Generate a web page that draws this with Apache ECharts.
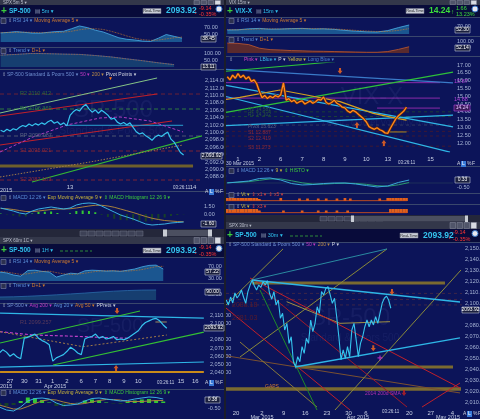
<!DOCTYPE html>
<html><head><meta charset="utf-8">
<script src="https://cdn.jsdelivr.net/npm/echarts@6.0.0/dist/echarts.min.js"></script>
<style>html,body{margin:0;padding:0;background:#0c1459;overflow:hidden}#c{width:480px;height:419px}</style>
</head><body><div id="c"></div>
<script>
/* ================= DATA ================= */
/* --- Top-left: SP-500 5m. x = 5-minute bar number counted from the 13 Apr open --- */
const tlBarStart = -44, tlBarStep = 2;
const tlPrice = [2100.6,2100.2,2100.9,2100.4,2101.0,2100.7,2101.4,2101.9,2101.6,2102.3,2101.8,2102.4,2102.0,2102.6,2102.2,2102.9,2103.3,2102.5,2102.9,2102.1,2102.6,2101.8,2104.6,2105.6,2106.2,2105.8,2106.9,2107.6,2106.4,2105.5,2106.1,2105.2,2106.0,2105.4,2104.7,2103.6,2103.9,2102.8,2102.3,2102.7,2102.1,2102.6,2101.4,2100.2,2099.6,2099.9,2099.1,2098.6,2097.9,2098.8,2099.3,2098.9,2099.6,2100.1,2098.2,2097.4,2096.0,2094.6,2093.9];
const tlRsiStep = 5;
const tlRsi   = [55.4,57,59,57,55,54.6,57,59,60,67,74.5,70,63,58,50,42,38,36,33,32,41,51,46,41];
const tlRsiMa = [56,56.5,57,57.5,57,56,56,56.5,57.5,60,64,67,67,65,60,54,47,41,37,35,36,39,42,44];
const tlTrendStep = 10;
const tlTrend = [85,90,97,95,92,90,82,72,58,45,30,17];
const tlMacdStep = 4;
const tlMacd       = [1.2,0.9,0.6,0.2,0,0.6,1.0,1.2,1.4,1.2,1.0,1.2,1.8,2.1,2.2,2.1,1.6,1.0,0.4,-0.2,-0.6,-1.0,-1.5,-2.0,-2.2,-2.1,-2.0,-1.8,-1.7,-1.6];
const tlMacdSignal = [1.1,1.05,0.9,0.7,0.5,0.5,0.6,0.75,0.9,1.0,1.0,1.05,1.2,1.4,1.6,1.75,1.75,1.6,1.35,1.0,0.65,0.3,-0.1,-0.5,-0.85,-1.1,-1.3,-1.4,-1.5,-1.55];
const tlMacdHist   = [0.1,-0.1,-0.3,-0.5,-0.5,0.1,0.4,0.45,0.5,0.2,0,0.15,0.6,0.7,0.6,0.35,-0.15,-0.6,-0.95,-1.2,-1.25,-1.3,-1.4,-1.5,-1.35,-1.0,-0.7,-0.4,-0.2,-0.05];
const tlXTicks = [[0,'13'],[78,'14']];
const tlPriceTicks = [2088,2090,2092,2094,2096,2098,2100,2102,2104,2106,2108,2110,2112,2114];
const tlPivotLevels = [2110.4,2106.35,2099.05,2095.0,2087.16];
const tlPivotNames  = ['R2 2110.412','R1 2106.369','PP 2099.087','S1 2095.021','S2 2087.163'];
const tlChanGreenUp  = [[-44.4,2105.27],[55.2,2114.73]];
const tlChanRedUp    = [[-44.4,2104.46],[55.2,2110.41]];
const tlChanRedLow   = [[-44.4,2096.62],[64.7,2103.11]];
const tlChanGreenLow = [[-24.1,2086.62],[85.6,2099.32]];
const tlSupportBand  = [[-44.4,2090.95],[78,2090.95]];
const tlCyanLevel    = [[-1.9,2101.95],[71.7,2101.95]];
const tlMa50  = [[-44.4,2094.73],[-23.5,2098.78],[-1.9,2102.03],[19.0,2103.92],[31.7,2104.19],[50.7,2103.11],[71.7,2100.14]];
const tlMa200 = [[-44.4,2087.97],[12.7,2092.03],[71.7,2096.62]];

/* --- Top-right: VIX-X 15m. x = trading day (0 = 1 Apr) --- */
const trDayStart = -0.5, trStep = 0.125;
const trPrice = [16.25,16.05,16.35,16.15,16.45,16.2,16.35,16.1,16.25,15.95,16.05,15.8,15.3,14.9,15.05,14.85,15.0,14.9,15.05,14.95,15.1,15.85,14.75,14.85,14.65,14.75,14.55,14.65,14.7,14.5,14.6,14.7,14.55,14.65,14.8,14.75,14.95,14.6,14.5,14.6,14.75,14.55,14.45,14.3,14.25,14.05,13.95,14.1,14.0,13.85,13.7,13.55,13.35,13.05,12.95,12.88,12.98,12.85,12.78,12.65,12.62,12.95,13.25,13.55,13.75,13.9,14.05,14.3];
const trSubStep = 0.5;
const trRsi   = [50,51,56,58,54,55,57,58,55,56,53,48,44,41,40,47,62,75];
const trRsiMa = [52,51,53,55,56,55,56,57,57,56,55,52,48,45,42,43,48,57];
const trTrend = [83,80,70,40,28,25,20,18,15,14,12,10,8,6,6,12,30,52];
const trMacd       = [0,0.11,0.22,0.5,0.56,0.33,-0.06,-0.22,-0.17,-0.06,0,0,-0.11,-0.28,-0.44,-0.33,0.06,0.33];
const trMacdSignal = [0.05,0.08,0.15,0.3,0.45,0.45,0.25,0.02,-0.12,-0.12,-0.06,-0.02,-0.05,-0.15,-0.3,-0.36,-0.2,0.05];
const trVt1 = [0.6,0.6,0.6,0.6,0.6,0.6,0.6,0.6,0.6,0.6,0.6,0.6,0.4,0,0,0,0,0,0,0,0.6,0,0,0,0,0,0,0.5,0,0,0.5,0,0,0,0.5,0,0,0.5,0,0,0,0.5,0,0,0.6,0,0.5,0,0,0,0,0,0,0,0,0,0,0.5,0,0,0.6,0.6,0.6,0.6,0.6,0.6,0.6,0.6];
const trVt2 = [0.8,0.8,0.8,0.8,0.8,0.8,0.8,0.8,0.8,0.8,0.8,0.8,0.5,0,0,0,0,0,0,0,0,0.5,0,0,0,0,0,0,0.5,0,0,0,0,0,0.5,0,0,0.5,0,0,0,0.5,0,0,0,0.5,0,0,0,0,0,0,0,0,0,0,0,0,0,0,0,0.8,0.8,0.8,0.8,0.8,0.8,0.8];
const trXTicks = [[0,'1'],[1,'2'],[2,'6'],[3,'7'],[4,'8'],[5,'9'],[6,'10'],[7,'13'],[9,'15']];
const trPriceTicks = [12,12.5,13,13.5,14,14.5,15,15.5,16,16.5,17];
const trGreenLow   = [[-0.56,13.96],[10.05,16.55]];
const trGreenHigh  = [[-0.56,16.6],[4.53,17.21]];
const trLongBlue   = [[-0.56,16.72],[10.05,15.85]];
const trLBlueUpper = [[-0.56,15.69],[10.05,13.03]];
const trLBlueFlat  = [[-0.56,13.11],[10.05,13.79]];
const trLBlueLower = [[-0.56,14.98],[9.91,11.42]];
const trYellowMa   = [[-0.56,14.79],[0.09,14.93],[1.96,15.4],[3.21,15.08],[4.77,14.65],[6.32,13.9],[7.42,13.58],[7.88,13.47]];
const trYellowSupport = [[6.96,12.71],[7.88,12.71]];
const trPurpleLevels = [15.87,14.88,14.24];
const trPurpleFrom   = [-0.56,-0.56,6.5];
const trPivotNames  = ['R2 14.581','R1 14.102','Pivot 13.623','S1 12.887','S2 12.419','S3 11.273'];
const trPivotLevels = [14.0,13.7,13.15,12.75,12.45,11.8];
const trArrowsDown = [[4.77,16.62]];
const trArrowsUp   = [[5.56,13.15],[6.82,12.0]];

/* --- Bottom-left: SP-500 1H. x = trading day (0 = 27 Mar) --- */
const blDayStart = -0.75, blStep = 0.25;
const blPrice = [2064,2068,2065,2060,2063,2059,2057,2082,2083,2085,2087,2082,2079,2077,2074,2054,2058,2060,2062,2066,2071,2068,2064,2062,2081,2083,2084,2087,2082,2084,2081,2082,2084,2080,2081,2080,2082,2085,2088,2091,2097,2101,2103,2105,2106,2103,2098,2094];
const blSubStep = 0.5;
const blRsi   = [50,47,40,36,55,56,52,50,33,40,46,44,54,56,55,53,54,52,56,60,67,72,73,60];
const blRsiMa = [52,50,46,42,44,48,52,53,48,44,42,43,46,50,53,54,54,53,53,55,58,63,68,69];
const blTrendStep = 1;
const blTrend = [27,29,34,40,47,55,63,72,80,86,90,91];
const blMacd       = [-0.4,-0.7,-0.8,-0.4,0.2,0.45,0.5,0.4,0,-0.25,-0.2,-0.1,0.2,0.45,0.5,0.4,0.3,0.2,0.25,0.4,0.5,0.6,0.55,0.4];
const blMacdSignal = [-0.2,-0.4,-0.6,-0.6,-0.35,-0.05,0.2,0.35,0.3,0.1,-0.05,-0.12,-0.05,0.1,0.25,0.35,0.35,0.3,0.15,0.15,0.15,0.2,0.25,0.25];
const blMacdHist   = [-0.2,-0.3,-0.2,0.2,0.55,0.5,0.3,0.05,-0.3,-0.35,-0.15,0.02,0.25,0.35,0.25,0.05,-0.05,-0.1,0.1,0.25,0.35,0.4,0.3,0.15];
const blXTicks = [[0,'27'],[1,'30'],[2,'31'],[3,'1'],[4,'2'],[5,'6'],[6,'7'],[7,'8'],[8,'9'],[9,'10'],[12,'15'],[13,'16']];
const blPriceTicks = [2040,2050,2060,2070,2080,2100,2110];
const blCyanTop   = [[-0.7,2112.5],[13.6,2106.4]];
const blGreenUp   = [[-0.7,2076.1],[9.12,2115.0]];
const blGreenLow  = [[3.02,2049.4],[13.6,2089.4]];
const blCyanLow   = [[-0.7,2046.9],[13.6,2053.0]];
const blOrangeLevel = [[-0.7,2040.8],[13.6,2040.8]];
const blMa50  = [[-0.7,2089.8],[1.61,2085.8],[4.0,2084.6],[7.02,2082.5],[8.42,2081.8]];
const blMa200 = [[-0.7,2089.8],[5.12,2071.6],[7.51,2077.3],[11.0,2085.8]];
const blShortLevel = [[10.2,2101.6],[11.0,2101.6]];
const blArrowDown = [[7.51,2115.0]];
const blArrowUp   = [[7.44,2045.7]];

/* --- Bottom-right: SP-500 30m. x = trading day (0 = 20 Feb) --- */
const brDayStart = -2.25, brStep = 0.5;
const brPrice = [2103,2098.5,2105.7,2100.3,2109.4,2104.8,2107.6,2112.1,2105.5,2100,2110.6,2116.6,2121.2,2115.7,2112.1,2116.6,2114.5,2119.6,2116.6,2120.6,2109.1,2103.6,2110.6,2098.5,2103,2086.4,2090.9,2075.7,2081.8,2063.6,2069.6,2046.9,2042.4,2051.5,2046.9,2060.6,2054.5,2068.2,2063.6,2084.8,2074.2,2081.8,2096.9,2090.9,2110.6,2107.6,2113.6,2115.1,2107.6,2100,2104.6,2087.8,2069.6,2048.5,2057.6,2050,2060.6,2051.5,2075.7,2081.8,2066.7,2051.5,2063.6,2069.6,2078.7,2084.8,2078.7,2084.8,2080.3,2087.8,2081.8,2090.9,2100,2104.6,2106.6,2103,2095.5];
const brXTicks = [[0,'20'],[6,'2'],[11,'9'],[16,'16'],[21,'23'],[26,'30'],[30,'6'],[40,'20'],[45,'27'],[50,'4']];
const brPriceTicks = [2010,2020,2030,2040,2050,2060,2070,2080,2100,2110,2120,2130,2140,2150];
const brBandHigh = [[3.69,2118.5],[48.26,2118.5]];
const brBandLow  = [[13.62,2042.1],[50.11,2042.1]];
const brGapBand  = [[-2.31,2022.1],[51.96,2022.1]];
const brCyanTop  = [[3.69,2121.2],[51.73,2101.2]];
const brCyanLow  = [[13.62,2042.1],[51.73,2068.5]];
const brTealRay  = [[3.69,2121.2],[34.87,2149.4]];
const brOliveRay1 = [[-2.31,2098.5],[10.85,2149.4]];
const brOliveRay2 = [[0.92,2051.2],[34.87,2149.4]];
const brOliveRay3 = [[22.86,2003.0],[51.96,2130.3]];
const brYellowPath = [[11.7,2101.5],[24.0,2081.8],[35.56,2083.3]];
const brRed1 = [[3.23,2123.0],[51.73,2023.0]];
const brRed2 = [[5.54,2114.8],[39.49,2005.7]];
const brRed3 = [[42.95,2005.7],[51.73,2027.5]];
const brRed4 = [[-2.31,2095.7],[26.32,2003.0]];
const brGreen = [[5.54,2112.1],[18.7,2003.0]];
const brBrown1 = [[-2.31,2052.3],[51.73,2018.5]];
const brBrown2 = [[0.92,2064.8],[18.7,2005.7]];
const brPivotLevels = [2109.1,2103.6,2098.5];
const brArrowsDown = [[36.02,2110.3],[31.7,2059.1]];
const brPlus = [[33.25,2050.3]];
const brRedArrow = [[38.8,2018.5]];

/* ================= DRAWING ================= */
const FONT = '"Liberation Sans","DejaVu Sans",sans-serif';
const WATER = 'rgba(150,170,240,0.07)';
const grids = [], xAxes = [], yAxes = [], series = [], gfx = [];
const mctx = document.createElement('canvas').getContext('2d');
function tw(t, s){ mctx.font = s + 'px ' + FONT; return mctx.measureText(t).width; }
function fmtP(v){ return v.toFixed(2).replace(/\B(?=(\d{3})+(?!\d))/g, ','); }
function f2(v){ return v.toFixed(2); }
function seq(start, step, arr){ return arr.map((v, i) => [start + step * i, v]); }

function addPanel(b, xr, yr, ax){
  ax = ax || {};
  grids.push({left:b[0], top:b[1], width:b[2], height:b[3], show:false, outerBoundsMode:'none', containLabel:false});
  const g = grids.length - 1;
  const xa = {type:'value', gridIndex:g, min:xr[0], max:xr[1], axisLine:{show:false}, axisTick:{show:false}, splitLine:{show:false}, axisLabel:{show:false}};
  if (ax.xLab){
    const lab = ax.xLab;
    xa.axisLabel = {show:true, customValues:lab.map(d=>d[0]), formatter:(v)=>{const f=lab.find(d=>Math.abs(d[0]-v)<1e-6);return f?f[1]:'';}, color:'#c8d0e4', fontSize:6, fontFamily:FONT, margin:ax.xMargin==null?3:ax.xMargin};
  }
  xAxes.push(xa);
  const ya = {type:'value', gridIndex:g, min:yr[0], max:yr[1], position:'right', axisLine:{show:false}, axisTick:{show:false}, splitLine:{show:false}, axisLabel:{show:false}};
  if (ax.yLab){
    ya.axisLabel = {show:true, customValues:ax.yLab, formatter:ax.yFmt || f2, color:'#a8b6d6', fontSize:5.5, fontFamily:FONT, margin:ax.yMargin==null?4:ax.yMargin};
  }
  yAxes.push(ya);
  return g;
}
function ln(g, data, color, w, dash, extra){
  series.push(Object.assign({type:'line', xAxisIndex:g, yAxisIndex:g, data, symbol:'none', silent:true, animation:false, z:3,
    lineStyle:{color, width:w, type:dash || 'solid'}}, extra || {}));
}
function area(g, data, lineColor, fill){
  ln(g, data, lineColor, 0.8, null, {areaStyle:{color:fill, opacity:1, origin:'start'}, z:2});
}
function bars(g, data, colorFn, w){
  series.push({type:'bar', xAxisIndex:g, yAxisIndex:g, data, barWidth:w, silent:true, animation:false, z:2,
    itemStyle:{color: colorFn}});
}
function marks(g, data, path, color, size){
  series.push({type:'scatter', xAxisIndex:g, yAxisIndex:g, data, symbol:path, symbolSize:size, silent:true, animation:false, z:6, itemStyle:{color}});
}
function T(x, y, text, fill, size, o){
  o = o || {};
  gfx.push({type:'text', x, y, z:o.z || 50, silent:true, style:{text, fill, fontSize:size, fontFamily:FONT, fontWeight:o.bold?'bold':'normal', align:o.align || 'left', verticalAlign:'middle', opacity:o.op==null?1:o.op}});
}
function Rc(x, y, w, h, fill, o){
  o = o || {};
  gfx.push({type:'rect', z:o.z || 1, silent:true, shape:{x, y, width:w, height:h}, style:{fill, stroke:o.stroke || null, lineWidth:o.lw || 1}});
}
function Ln(x1, y1, x2, y2, stroke, o){
  o = o || {};
  gfx.push({type:'line', z:o.z || 1, silent:true, shape:{x1, y1, x2, y2}, style:{stroke, lineWidth:o.lw || 1, lineDash:o.dash || null}});
}
function row(x, y, parts, s){
  s = s || 5;
  for (const [t, c] of parts){ T(x, y, t, c, s); x += tw(t, s) + 2; }
}
function iconBox(x, y){ Rc(x, y - 2.5, 5, 5, '#2c3150', {stroke:'#7d85a8', lw:0.6, z:40}); }
function valBox(x, y, w, text, fill, stroke, color){
  Rc(x, y - 3, w, 6, fill, {stroke, lw:0.6, z:55});
  T(x + w / 2, y, text, color, 5, {align:'center', z:56});
}
const ARROW_DN = 'path://M3,0L7,0L7,5L10,5L5,11L0,5L3,5Z';
const ARROW_UP = 'path://M5,0L10,6L7,6L7,11L3,11L3,6L0,6Z';
const PLUS = 'path://M3,0H5V3H8V5H5V8H3V5H0V3H3Z';
const PRICE = '#35c4ee';
const histColor = p => p.value[1] >= 0 ? '#34c834' : '#17402a';

/* ---------- chrome: headers ---------- */
function header(x0, y0, w, th, hh, title, sym, tf, price, priceColor, chg, pct, chgColor, arrow, rtX, prX, chX){
  Rc(x0, y0, w, th, '#33374a');
  T(x0 + 3, y0 + th / 2, title, '#b9bdca', 4.5);
  for (let k = 0; k < 4; k++) Rc(x0 + w - 30 + k * 7, y0 + 0.5, 5.5, th - 1, k === 3 ? '#d8dbe2' : '#50556a', {stroke:'#8a8fa0', lw:0.5});
  Rc(x0, y0 + th, w, hh, '#080b3a');
  const cy = y0 + th + hh / 2;
  T(x0 + 1, cy, '+', '#3ccc3c', 10, {bold:true});
  T(x0 + 9, cy, sym, '#2fc2ee', 6.5, {bold:true});
  T(x0 + 9 + tw(sym, 6.5) + 4, cy, '▤', '#7f8aa8', 6);
  T(x0 + 9 + tw(sym, 6.5) + 11, cy, tf + ' ▾', '#2fc2ee', 5.5);
  Rc(rtX, cy - 2.5, 18, 5, '#c9cdd6', {stroke:'#7a7f90', lw:0.5, z:40});
  T(rtX + 9, cy, 'Real-Time', '#202226', 3.8, {align:'center'});
  T(prX, cy, price, priceColor, 8.5, {bold:true});
  T(chX - 5, cy + 1.5, arrow, chgColor, 6.5, {bold:true});
  T(chX, cy - 3, chg, chgColor, 5.5);
  T(chX, cy + 3.5, pct, chgColor, 5.5);
  gfx.push({type:'circle', z:40, silent:true, shape:{cx:x0 + w - 5, cy:cy - 2, r:3}, style:{fill:'#e8e8f0', stroke:'#3a78c8', lineWidth:1}});
}
header(0, 0, 224, 5, 12, 'SPX 5m 5 ▾', 'SP-500', '5m', '2093.92', PRICE, '-9.14', '-0.35%', '#ff3434', '↓', 143, 166, 199);
header(226, 0, 254, 5, 12, 'VIX 15m ▾', 'VIX-X', '15m', '14.24', '#3cdc3c', '1.66', '13.23%', '#3cdc3c', '↑', 406, 429, 456);
header(0, 237, 224, 7, 13, 'SPX 60m 1C ▾', 'SP-500', '1H', '2093.92', PRICE, '-9.14', '-0.35%', '#ff3434', '↓', 143, 166, 199);
header(226, 222, 254, 7, 13, 'SPX 30m ▾', 'SP-500', '30m', '2093.92', PRICE, '-9.14', '-0.35%', '#ff3434', '↓', 400, 423, 453);
Ln(60, 251, 92, 251, '#2d8a3a', {lw:1, dash:[3,2], z:40});
Ln(290, 236, 322, 236, '#2d8a3a', {lw:1, dash:[3,2], z:40});
Rc(224, 0, 2, 419, '#1b1d2b', {z:45});

/* ---------- separators & scroll bars ---------- */
const SEP = '#3a476c';
[17.5, 47.5, 69.5, 191.5].forEach(y => Ln(0, y, 224, y, SEP));
[17.5, 36.5, 56.5, 166.5, 193.5, 204.5].forEach(y => Ln(226, y, 480, y, SEP));
[257.5, 283.5, 303.5, 389.5].forEach(y => Ln(0, y, 224, y, SEP));
Ln(226, 242.5, 480, 242.5, SEP);
Rc(0, 229, 224, 8, '#24273a', {z:40});
for (let k = 0; k < 8; k++) Rc(80 + k * 8, 231, 7, 5, '#3d4156', {stroke:'#70758a', lw:0.5, z:41});
Rc(163, 230, 49, 6, '#4b4f60', {z:41}); Rc(163, 229.5, 4, 7, '#c8ccd4', {z:42}); Rc(208, 229.5, 4, 7, '#c8ccd4', {z:42});
Rc(226, 215, 254, 7, '#24273a', {z:40});
for (let k = 0; k < 8; k++) Rc(320 + k * 8, 216.5, 7, 4.5, '#3d4156', {stroke:'#70758a', lw:0.5, z:41});
Rc(351, 216, 117, 5.5, '#4b4f60', {z:41}); Rc(351, 215.5, 3, 6.5, '#c8ccd4', {z:42}); Rc(465, 215.5, 3, 6.5, '#c8ccd4', {z:42});
function alpf(x, y){ T(x, y, 'A', '#d0d4e0', 5); Rc(x + 4, y - 3, 5, 6, '#3a7ad8', {z:49}); T(x + 5, y, 'L', '#ffffff', 5); T(x + 10, y, '%', '#d0d4e0', 5); T(x + 15, y, 'F', '#d0d4e0', 5); }
alpf(205, 192); alpf(457, 164); alpf(205, 383); alpf(463, 414);

/* ---------- TOP-LEFT ---------- */
const TLX = [-44.4, 82.4];
const gTLr = addPanel([0, 22, 200, 20], TLX, [30.5, 85.4], {yLab:[80,70,50]});
area(gTLr, seq(tlBarStart, tlRsiStep, tlRsi), '#4ab0e8', '#1b5690');
ln(gTLr, seq(tlBarStart, tlRsiStep, tlRsiMa), '#c8782c', 0.8, 'dotted');
const gTLt = addPanel([0, 53, 200, 14], TLX, [0, 100], {yLab:[100,50]});
area(gTLt, seq(tlBarStart, tlTrendStep, tlTrend), '#2a6aa8', '#163e70');
ln(gTLt, seq(tlBarStart, tlTrendStep, tlTrend), '#c8602c', 0.8, 'dotted');
const gTL = addPanel([0, 77, 200, 107.3], TLX, [2086, 2115], {yLab:tlPriceTicks, yFmt:fmtP, xLab:tlXTicks, xMargin:0, yMargin:5});
const tlPivotColors = ['#6a2236','#2f7a40','#4c5472','#7a2236','#7a2236'];
const tlPivotText   = ['#2f6a3a','#2f7a40','#5a6280','#8a2a3a','#8a2a3a'];
tlPivotLevels.forEach((lv, i) => ln(gTL, [[TLX[0], lv], [TLX[1], lv]], tlPivotColors[i], 1, [4, 3]));
ln(gTL, tlSupportBand, '#6e5f2c', 3);
ln(gTL, tlChanGreenUp, '#86c486', 1);
ln(gTL, tlChanRedUp, '#c0202a', 1.2);
ln(gTL, tlChanRedLow, '#c0202a', 1.2);
ln(gTL, tlChanGreenLow, '#34b834', 1.2);
ln(gTL, tlCyanLevel, '#2aa0d0', 1);
ln(gTL, tlMa50, '#b03cc0', 1, [3, 2]);
ln(gTL, tlMa200, '#a07a48', 1, [1.5, 1.5]);
ln(gTL, seq(tlBarStart, tlBarStep, tlPrice), PRICE, 1.2, null, {z:5});
tlPivotNames.forEach((n, i) => T(20, [94, 109, 136, 151, 180][i] - 1, n, tlPivotText[i], 5.5, {z:4}));
const gTLm = addPanel([0, 200, 200, 28], TLX, [-2.8, 2.8], {yLab:[1.5, 0]});
bars(gTLm, seq(tlBarStart, tlMacdStep, tlMacdHist), histColor, 2);
ln(gTLm, seq(tlBarStart, tlMacdStep, tlMacdSignal), '#a8803c', 1);
ln(gTLm, seq(tlBarStart, tlMacdStep, tlMacd), '#3ab0e0', 1);
iconBox(1, 21); T(8, 21, '⇕', '#8a93b4', 5); row(13, 21, [['RSI 14 ▾', '#5b8fd8'], ['Moving Average 5 ▾', '#cf7a2e']]);
iconBox(1, 51); T(8, 51, '⇕', '#8a93b4', 5); row(13, 51, [['Trend ▾', '#5b8fd8'], ['D+1 ▾', '#cf7a2e']]);
T(2, 75, '⇕', '#8a93b4', 5); row(7, 75, [['SP-500 Standard & Poors 500 ▾', '#6f8fd0'], ['50 ▾', '#c43ac4'], ['200 ▾', '#b88a48'], ['Pivot Points ▾', '#d0d4e0']]);
T(108, 79, '▼', '#ff7a1a', 5);
iconBox(1, 198); T(8, 198, '⇕', '#8a93b4', 5); row(13, 198, [['MACD 12 26 ▾', '#5b8fd8'], ['Exp Moving Average 9 ▾', '#c8b43a'], ['⇕ MACD Histogram 12 26 9 ▾', '#3cc83c']]);
valBox(201, 156, 21, '2,093.92', '#1a1f3e', '#c0c8d8', '#ffffff');
valBox(201, 39, 15, '38.45', '#1a1f3e', '#c0c8d8', '#ffffff');
valBox(201, 67, 15, '13.11', '#1a1f3e', '#c0c8d8', '#ffffff');
valBox(201, 224, 15, '-1.60', '#1a1f3e', '#c0c8d8', '#ffffff');
T(0, 190, '2015', '#c8d0e4', 5.5);
T(173, 188, '03:26:11', '#c8d0e4', 4.5);
T(113, 110, 'SP-500', WATER, 24, {align:'center', z:0});
T(113, 131, 'Standard & Poors 500', WATER, 11, {align:'center', z:0});

/* ---------- TOP-RIGHT ---------- */
const TRX = [-0.56, 10.05];
const gTRr = addPanel([226, 24, 227, 10], TRX, [30, 80], {yLab:[80, 70]});
area(gTRr, seq(trDayStart, trSubStep, trRsi), '#4ab0e8', '#1b5690');
ln(gTRr, seq(trDayStart, trSubStep, trRsiMa), '#c8782c', 0.8, 'dotted');
const gTRt = addPanel([226, 41, 227, 12], TRX, [0, 100], {yLab:[100, 50]});
area(gTRt, seq(trDayStart, trSubStep, trTrend), '#c05a30', '#5a2a2e');
const gTR = addPanel([226, 63, 227, 89], TRX, [11.425, 17.13], {yLab:trPriceTicks, xLab:trXTicks, xMargin:4, yMargin:4});
trPivotLevels.forEach((lv, i) => ln(gTR, [[TRX[0], lv], [TRX[1], lv]], i < 2 ? '#1f4a30' : (i === 2 ? '#3a4060' : '#4a1a2a'), 0.8, [3, 3]));
trPurpleLevels.forEach((lv, i) => ln(gTR, [[trPurpleFrom[i], lv], [9.44, lv]], '#8a2aa8', 1));
ln(gTR, trLongBlue, '#3a7ac8', 1.2);
ln(gTR, trLBlueUpper, '#2eb6e6', 1.2);
ln(gTR, trLBlueFlat, '#2eb6e6', 1.2);
ln(gTR, trLBlueLower, '#2eb6e6', 1.2);
ln(gTR, trGreenLow, '#2ec03a', 1.2);
ln(gTR, trGreenHigh, '#2ec03a', 1.2);
ln(gTR, trYellowMa, '#d4a020', 1.2);
ln(gTR, trYellowSupport, '#b08a20', 1);
ln(gTR, seq(trDayStart, trStep, trPrice), '#6a2a08', 2.6, null, {z:4});
ln(gTR, seq(trDayStart, trStep, trPrice), '#ff8a1e', 1.3, null, {z:5});
marks(gTR, trArrowsDown, ARROW_DN, '#ff6a1a', [5, 6]);
marks(gTR, trArrowsUp, ARROW_UP, '#ff6a1a', [5, 6]);
const trPivotTextY = [110, 115, 127, 133, 139, 148];
const trPivotTextC = ['#2a5a3a', '#2a5a3a', '#5a6280', '#8a2a3a', '#8a2a3a', '#8a2a3a'];
trPivotNames.forEach((n, i) => T(248, trPivotTextY[i], n, trPivotTextC[i], 5, {z:4}));
T(372, 97, 'VIX-X', WATER, 24, {align:'center', z:0});
T(380, 123, 'CBOE Market Volatility Index', WATER, 9, {align:'center', z:0});
const gTRm = addPanel([226, 174, 227, 18], TRX, [-1, 1], {yLab:[0.5, -0.5]});
ln(gTRm, [[TRX[0], 0], [TRX[1], 0]], '#1d2f5a', 1);
ln(gTRm, seq(trDayStart, trSubStep, trMacdSignal), '#2a9a70', 1);
ln(gTRm, seq(trDayStart, trSubStep, trMacd), '#3aa8d8', 1);
const gTRv1 = addPanel([226, 196, 227, 5], TRX, [0, 1]);
bars(gTRv1, seq(trDayStart, trStep, trVt1), '#e0601c', 2.7);
ln(gTRv1, [[TRX[0], 0.05], [7.9, 0.05]], '#d0501a', 1);
const gTRv2 = addPanel([226, 208, 227, 5], TRX, [0, 1]);
bars(gTRv2, seq(trDayStart, trStep, trVt2), '#e0601c', 2.7);
ln(gTRv2, [[TRX[0], 0.05], [7.9, 0.05]], '#d0501a', 1);
iconBox(229, 21); T(236, 21, '⇕', '#8a93b4', 5); row(241, 21, [['RSI 14 ▾', '#5b8fd8'], ['Moving Average 5 ▾', '#cf7a2e']]);
iconBox(229, 40); T(236, 40, '⇕', '#8a93b4', 5); row(241, 40, [['Trend ▾', '#5b8fd8'], ['D+1 ▾', '#cf7a2e']]);
T(229, 60, '⇕', '#8a93b4', 5); row(244, 60, [['Pink ▾', '#d040c0'], ['LBlue ▾', '#3ab8e8'], ['P ▾', '#d0d4e0'], ['Yellow ▾', '#d0c040'], ['Long Blue ▾', '#4a80d0']]);
iconBox(229, 171); T(236, 171, '⇕', '#8a93b4', 5); row(241, 171, [['MACD 12 26 ▾', '#5b8fd8'], ['9 ▾', '#c8b43a'], ['⇕ HISTO ▾', '#3cc83c']]);
iconBox(229, 195); T(236, 195, '⇕', '#8a93b4', 5); row(241, 195, [['Vt ▾', '#c8b43a'], ['⇕ x1 ▾', '#d04040'], ['⇕ x5 ▾', '#d04040']]);
iconBox(229, 207); T(236, 207, '⇕', '#8a93b4', 5); row(241, 207, [['Vt ▾', '#c8b43a'], ['⇕ x3 ▾', '#d04040']]);
T(454, 81, '15.87', '#b040d8', 5.5, {z:56});
T(454, 99, '14.88', '#b040d8', 5.5, {z:56});
valBox(454, 108, 16, '14.24', '#3a1a5a', '#b040d8', '#e0c0ff');
valBox(455, 30, 15, '52.30', '#1a1f3e', '#c0c8d8', '#ffffff');
valBox(455, 48, 15, '52.14', '#1a1f3e', '#c0c8d8', '#ffffff');
valBox(455, 180, 15, '0.33', '#1a1f3e', '#c0c8d8', '#ffffff');
T(226, 164, '30 Mar 2015', '#c8d0e4', 5);
T(398, 163, '03:26:11', '#c8d0e4', 4.5);

/* ---------- BOTTOM-LEFT ---------- */
const BLX = [-0.702, 13.61];
const gBLr = addPanel([0, 263, 204, 18], BLX, [20, 80], {yLab:[80, 70, 30]});
area(gBLr, seq(blDayStart, blSubStep, blRsi), '#4ab0e8', '#1b5690');
ln(gBLr, seq(blDayStart, blSubStep, blRsiMa), '#c8782c', 0.8, 'dotted');
const gBLt = addPanel([0, 289, 204, 11], BLX, [0, 100], {yLab:[100, 50]});
area(gBLt, seq(blDayStart, blTrendStep, blTrend), '#2a6aa8', '#163e70');
const gBL = addPanel([0, 309, 204, 67], BLX, [2036, 2117.4], {yLab:blPriceTicks, yFmt:fmtP, xLab:blXTicks, xMargin:2, yMargin:6});
ln(gBL, blOrangeLevel, '#c88a1a', 2);
ln(gBL, blCyanTop, '#2eb6e6', 1.2);
ln(gBL, blCyanLow, '#2eb6e6', 1.2);
ln(gBL, blGreenUp, '#34c034', 1.2);
ln(gBL, blGreenLow, '#34c034', 1.2);
ln(gBL, blMa50, '#c040c8', 1.2, [3, 2]);
ln(gBL, blMa200, '#a07a48', 1, [2, 2]);
ln(gBL, blShortLevel, '#a09060', 1);
ln(gBL, seq(blDayStart, blStep, blPrice), PRICE, 1.2, null, {z:5});
marks(gBL, blArrowDown, ARROW_DN, '#ff6a1a', [5, 6]);
marks(gBL, blArrowUp, ARROW_UP, '#ff6a1a', [5, 6]);
T(20, 322, 'R1 2099.257', '#5a3a5a', 5.5, {z:4});
T(110, 326, 'SP-500', WATER, 20, {align:'center', z:0});
const gBLm = addPanel([0, 396, 204, 20], BLX, [-1.3, 0.7], {yLab:[0.5, -0.5]});
bars(gBLm, seq(blDayStart, blSubStep, blMacdHist), histColor, 4);
ln(gBLm, seq(blDayStart, blSubStep, blMacdSignal), '#a8803c', 1);
ln(gBLm, seq(blDayStart, blSubStep, blMacd), '#3ab0e0', 1);
iconBox(1, 262); T(8, 262, '⇕', '#8a93b4', 5); row(13, 262, [['RSI 14 ▾', '#5b8fd8'], ['Moving Average 5 ▾', '#cf7a2e']]);
iconBox(1, 286); T(8, 286, '⇕', '#8a93b4', 5); row(13, 286, [['Trend ▾', '#5b8fd8'], ['D+1 ▾', '#cf7a2e']]);
T(2, 306, '⇕', '#8a93b4', 5); row(7, 306, [['SP-500 ▾', '#6f8fd0'], ['Avg 200 ▾', '#c43ac4'], ['Avg 20 ▾', '#5b8fd8'], ['Avg 50 ▾', '#cf7a2e'], ['PPrets ▾', '#d0d4e0']]);
iconBox(1, 393); T(8, 393, '⇕', '#8a93b4', 5); row(13, 393, [['MACD 12 26 ▾', '#5b8fd8'], ['Exp Moving Average 9 ▾', '#c8b43a'], ['⇕ MACD Histogram 12 26 9 ▾', '#3cc83c']]);
valBox(204, 328, 20, '2093.92', '#1a1f3e', '#c0c8d8', '#ffffff');
valBox(205, 272, 15, '57.22', '#1a1f3e', '#c0c8d8', '#ffffff');
valBox(205, 292, 15, '90.00', '#1a1f3e', '#c0c8d8', '#ffffff');
valBox(205, 400, 15, '0.38', '#1a1f3e', '#c0c8d8', '#ffffff');
T(0, 386, '2015', '#c8d0e4', 5.5);
T(44, 386, 'Apr 2015', '#c8d0e4', 5.5);
T(157, 383, '03:26:11', '#c8d0e4', 4.5);

/* ---------- BOTTOM-RIGHT ---------- */
const BRX = [-2.31, 52.19];
const gBR = addPanel([226, 248, 236, 162], BRX, [2003.01, 2150.28], {yLab:brPriceTicks, yFmt:fmtP, xLab:brXTicks, xMargin:0, yMargin:3});
brPivotLevels.forEach(lv => ln(gBR, [[BRX[0], lv], [BRX[1], lv]], '#4a2a44', 0.8, [3, 3]));
ln(gBR, brGapBand, '#7a6a30', 3.5);
ln(gBR, brBandHigh, '#7a6a30', 3);
ln(gBR, brBandLow, '#7a6a30', 3);
ln(gBR, brBrown1, '#7a5030', 1);
ln(gBR, brBrown2, '#8a7a3a', 1);
ln(gBR, brOliveRay1, '#8a8a3a', 1);
ln(gBR, brOliveRay2, '#8a8a3a', 1);
ln(gBR, brOliveRay3, '#8a8a3a', 1);
ln(gBR, brYellowPath, '#a09040', 1);
ln(gBR, brTealRay, '#2a8aa0', 1);
ln(gBR, brRed1, '#c0202a', 1);
ln(gBR, brRed2, '#a01a2a', 1);
ln(gBR, brRed3, '#c0202a', 1);
ln(gBR, brRed4, '#c0202a', 1);
ln(gBR, brGreen, '#1e8a2a', 1);
ln(gBR, brCyanTop, '#2eb6e6', 1.3);
ln(gBR, brCyanLow, '#2eb6e6', 1.3);
ln(gBR, seq(brDayStart, brStep, brPrice), PRICE, 1.1, null, {z:5});
marks(gBR, brArrowsDown, ARROW_DN, '#ff6a1a', [5, 6]);
marks(gBR, brPlus, PLUS, '#d030d0', [5, 5]);
marks(gBR, brRedArrow, ARROW_DN, '#c02020', [5, 6]);
T(232, 305, '2088.18', '#5a1a2a', 7, {z:4});
T(232, 318, '2081.03', '#5a1a2a', 7, {z:4});
T(350, 318, 'SP-500', WATER, 24, {align:'center', z:0});
T(350, 338, 'Standard & Poors 500', WATER, 10, {align:'center', z:0});
T(265, 387, 'GAPS', '#d07a30', 5, {z:6});
T(365, 394, '2014 200d SMA', '#b030b0', 5, {z:6});
T(228, 245, '⇕', '#8a93b4', 5); row(233, 245, [['SP-500 Standard & Poors 500 ▾', '#6f8fd0'], ['50 ▾', '#c43ac4'], ['200 ▾', '#b88a48'], ['P ▾', '#d0d4e0']]);
valBox(462, 310, 17, '2093.92', '#1a1f3e', '#c0c8d8', '#ffffff');
T(262, 417, 'Mar 2015', '#c8d0e4', 5.5, {align:'center'});
T(358, 417, 'Apr 2015', '#c8d0e4', 5.5, {align:'center'});
T(448, 417, 'May 2015', '#c8d0e4', 5.5, {align:'center'});
T(382, 412, '03:26:11', '#c8d0e4', 4.5);

/* ---------- render ---------- */
const chart = echarts.init(document.getElementById('c'), null, {renderer:'canvas', width:480, height:419});
chart.setOption({
  animation:false,
  backgroundColor:'#0c1459',
  grid:grids, xAxis:xAxes, yAxis:yAxes, series,
  graphic:{elements:gfx}
});
</script></body></html>
